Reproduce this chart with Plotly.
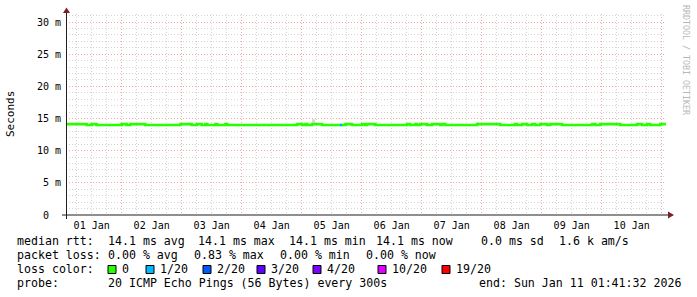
import pandas as pd
import plotly.graph_objects as go

# ---------------- data ----------------
# median RTT (seconds), step changes over the 10-day window
median_times = [
    "2026-01-01 01:44", "2026-01-01 10:00", "2026-01-01 12:00", "2026-01-01 14:00",
    "2026-01-02 00:00", "2026-01-02 02:00", "2026-01-02 03:30", "2026-01-02 09:30",
    "2026-01-02 23:30", "2026-01-03 04:00", "2026-01-03 06:00", "2026-01-03 08:00",
    "2026-01-03 09:30", "2026-01-03 10:15", "2026-01-03 13:30", "2026-01-03 14:15",
    "2026-01-03 17:30", "2026-01-03 18:15", "2026-01-04 22:10", "2026-01-05 00:15",
    "2026-01-05 01:30", "2026-01-05 02:15", "2026-01-05 04:10", "2026-01-05 08:10",
    "2026-01-05 17:30", "2026-01-05 20:10", "2026-01-06 00:10", "2026-01-06 01:25",
    "2026-01-06 02:10", "2026-01-06 05:25", "2026-01-06 18:10", "2026-01-06 19:25",
    "2026-01-06 21:25", "2026-01-06 22:10", "2026-01-06 23:25", "2026-01-07 02:10",
    "2026-01-07 04:10", "2026-01-07 07:25", "2026-01-07 08:10", "2026-01-07 09:25",
    "2026-01-07 22:10", "2026-01-08 07:25", "2026-01-08 13:25", "2026-01-08 14:10",
    "2026-01-08 16:10", "2026-01-08 18:10", "2026-01-08 20:10", "2026-01-08 21:25",
    "2026-01-08 23:25", "2026-01-09 02:10", "2026-01-09 03:25", "2026-01-09 08:10",
    "2026-01-09 20:10", "2026-01-09 21:25", "2026-01-09 23:25", "2026-01-10 07:25",
    "2026-01-10 14:10", "2026-01-10 16:10", "2026-01-10 18:10", "2026-01-10 19:25",
    "2026-01-10 23:25", "2026-01-11 01:41",
]
median_values = [
    0.01413, 0.01400, 0.01413, 0.01400,
    0.01413, 0.01400, 0.01413, 0.01400,
    0.01413, 0.01400, 0.01413, 0.01400,
    0.01413, 0.01400, 0.01413, 0.01400,
    0.01413, 0.01400, 0.01413, 0.01400,
    0.01413, 0.01400, 0.01413, 0.01400,
    0.01413, 0.01400, 0.01413, 0.01400,
    0.01413, 0.01400, 0.01413, 0.01400,
    0.01413, 0.01400, 0.01413, 0.01400,
    0.01413, 0.01400, 0.01413, 0.01400,
    0.01413, 0.01400, 0.01413, 0.01400,
    0.01413, 0.01400, 0.01413, 0.01400,
    0.01413, 0.01400, 0.01413, 0.01400,
    0.01413, 0.01400, 0.01413, 0.01400,
    0.01413, 0.01400, 0.01413, 0.01400,
    0.01413, 0.01413,
]

# one interval with 1/20 packet loss
loss_event_times = ["2026-01-05 15:20", "2026-01-05 16:10"]
loss_event_values = [0.01400, 0.01400]

# "smoke" (ping spread) visible above the median
smoke_start = ["2026-01-05 04:10", "2026-01-07 22:20"]
smoke_end = ["2026-01-05 05:25", "2026-01-07 22:50"]
smoke_low = [0.01425, 0.01428]
smoke_high = [0.01490, 0.01445]

y_tick_vals = [0, 0.005, 0.010, 0.015, 0.020, 0.025, 0.030]
y_tick_text = ["0  ", "5 m", "10 m", "15 m", "20 m", "25 m", "30 m"]

loss_labels = ["0", "1/20", "2/20", "3/20", "4/20", "10/20", "19/20"]
loss_colors = ["#26ff00", "#00b8ff", "#0059ff", "#5e00ff", "#7e00ff", "#dd00ff", "#ff0000"]

rtt_items = ["median rtt:", "14.1 ms avg", "14.1 ms max", "14.1 ms min",
             "14.1 ms now", "0.0 ms sd", "1.6 k am/s"]
loss_items = ["packet loss:", "0.00 % avg", "0.83 % max", "0.00 % min", "0.00 % now"]
probe_items = ["probe:", "20 ICMP Echo Pings (56 Bytes) every 300s",
               "end: Sun Jan 11 01:41:32 2026"]

x_start = "2026-01-01 01:44"
x_end = "2026-01-11 01:44"
y_max = 0.03126

# ---------------- layout geometry (pixels) ----------------
W, H = 697, 297
L, R, T, B = 66, 31, 14, 82
PW, PH = W - L - R, H - T - B
FONT = "DejaVu Sans Mono"
rtt_x = [15.5, 106.5, 197, 287.5, 374.5, 479.5, 557.5]
loss_x = [15.5, 106.5, 192.5, 278.5, 364.5]
probe_x = [15.5, 106.5, 477.5]
box_x = [108, 146, 203, 257, 313, 378, 442]


def px(x):
    return (x - L) / PW


def py(y):
    return (T + PH - y) / PH


fig = go.Figure()

# smoke
s0 = pd.to_datetime(smoke_start)
s1 = pd.to_datetime(smoke_end)
fig.add_trace(go.Bar(
    x=s0 + (s1 - s0) / 2,
    y=[h - l for h, l in zip(smoke_high, smoke_low)],
    base=smoke_low,
    width=[(b - a).total_seconds() * 1000 for a, b in zip(s0, s1)],
    marker=dict(color="#d9d9d9", line=dict(width=0)),
    hoverinfo="skip",
))

# median line
fig.add_trace(go.Scatter(
    x=median_times, y=median_values, mode="lines",
    line=dict(color=loss_colors[0], width=2.6, shape="hv"),
    hoverinfo="skip",
))
fig.add_trace(go.Scatter(
    x=loss_event_times, y=loss_event_values, mode="lines",
    line=dict(color=loss_colors[1], width=2.6, shape="hv"),
    hoverinfo="skip",
))
# invisible trace for the label axis
fig.add_trace(go.Scatter(
    x=[x_start, x_end], y=[0, 0], mode="lines", xaxis="x2",
    line=dict(width=0), opacity=0, hoverinfo="skip",
))

grid_minor = "#d4d4d4"
grid_major = "#ecaaaa"

fig.update_layout(
    width=W, height=H,
    margin=dict(l=L, r=R, t=T, b=B),
    paper_bgcolor="white", plot_bgcolor="white",
    showlegend=False,
    font=dict(family=FONT, color="black"),
    xaxis=dict(
        type="date", range=[x_start, x_end],
        tick0="2026-01-01", dtick=86400000,
        showticklabels=False, ticks="",
        showgrid=True, gridcolor=grid_major, gridwidth=1, griddash="1px,2px",
        minor=dict(dtick=6 * 3600000, tick0="2026-01-01", showgrid=True,
                   gridcolor=grid_minor, gridwidth=1, griddash="1px,2px"),
        showline=False, zeroline=False,
    ),
    xaxis2=dict(
        type="date", range=[x_start, x_end], overlaying="x", side="bottom", anchor="y",
        tick0="2026-01-01 12:00", dtick=86400000, tickformat="%d %b",
        showgrid=False, ticks="", showline=False, zeroline=False,
        ticklabelstandoff=3,
        tickfont=dict(family=FONT, size=10, color="black"),
    ),
    yaxis=dict(
        range=[0, y_max],
        tickvals=y_tick_vals, ticktext=[t.replace(" ", "\u00a0") for t in y_tick_text],
        tickfont=dict(family=FONT, size=10, color="black"),
        ticks="", ticklabelstandoff=4,
        showgrid=True, gridcolor=grid_major, gridwidth=1, griddash="1px,2px",
        minor=dict(dtick=0.001, tick0=0, showgrid=True,
                   gridcolor=grid_minor, gridwidth=1, griddash="1px,2px"),
        showline=False, zeroline=False,
    ),
)

shapes = []
# axes
shapes.append(dict(type="line", xref="paper", yref="paper",
                   x0=px(62), x1=px(669), y0=py(215), y1=py(215),
                   line=dict(color="#1f1f1f", width=1)))
shapes.append(dict(type="line", xref="paper", yref="paper",
                   x0=px(66.5), x1=px(66.5), y0=py(219), y1=py(12),
                   line=dict(color="#1f1f1f", width=1)))
# arrows
shapes.append(dict(type="path", xref="paper", yref="paper",
                   path=f"M {px(668)} {py(211.5)} L {px(674)} {py(215)} L {px(668)} {py(218.5)} Z",
                   fillcolor="#801f1f", line=dict(width=0)))
shapes.append(dict(type="path", xref="paper", yref="paper",
                   path=f"M {px(63)} {py(13)} L {px(66.5)} {py(7.5)} L {px(70)} {py(13)} Z",
                   fillcolor="#801f1f", line=dict(width=0)))

annotations = []


def text(x, y, s, size=11.6, **kw):
    annotations.append(dict(
        xref="paper", yref="paper", x=px(x), y=py(y), text=s.replace(" ", "\u00a0"),
        showarrow=False, xanchor=kw.pop("xanchor", "left"), yanchor="middle",
        borderpad=0, font=dict(family=FONT, size=size, color=kw.pop("color", "black")),
        **kw))


for x, s in zip(rtt_x, rtt_items):
    text(x, 241, s)
for x, s in zip(loss_x, loss_items):
    text(x, 255, s)
text(15.5, 269, "loss color:")
for bx, lab, col in zip(box_x, loss_labels, loss_colors):
    shapes.append(dict(type="rect", xref="paper", yref="paper",
                       x0=px(bx), x1=px(bx + 8), y0=py(265.5), y1=py(273.5),
                       fillcolor=col, line=dict(color="black", width=1)))
    text(bx + 12.5, 269, lab)
for x, s in zip(probe_x, probe_items):
    text(x, 283, s)

# axis title
text(11, 114, "Seconds", size=11, xanchor="center", textangle=-90)
# watermark
text(686, 60, "RRDTOOL / TOBI OETIKER", size=8.3, xanchor="center",
     textangle=90, color="#b8b8b8")

fig.update_layout(shapes=shapes, annotations=annotations)
fig.write_html("out.html")
